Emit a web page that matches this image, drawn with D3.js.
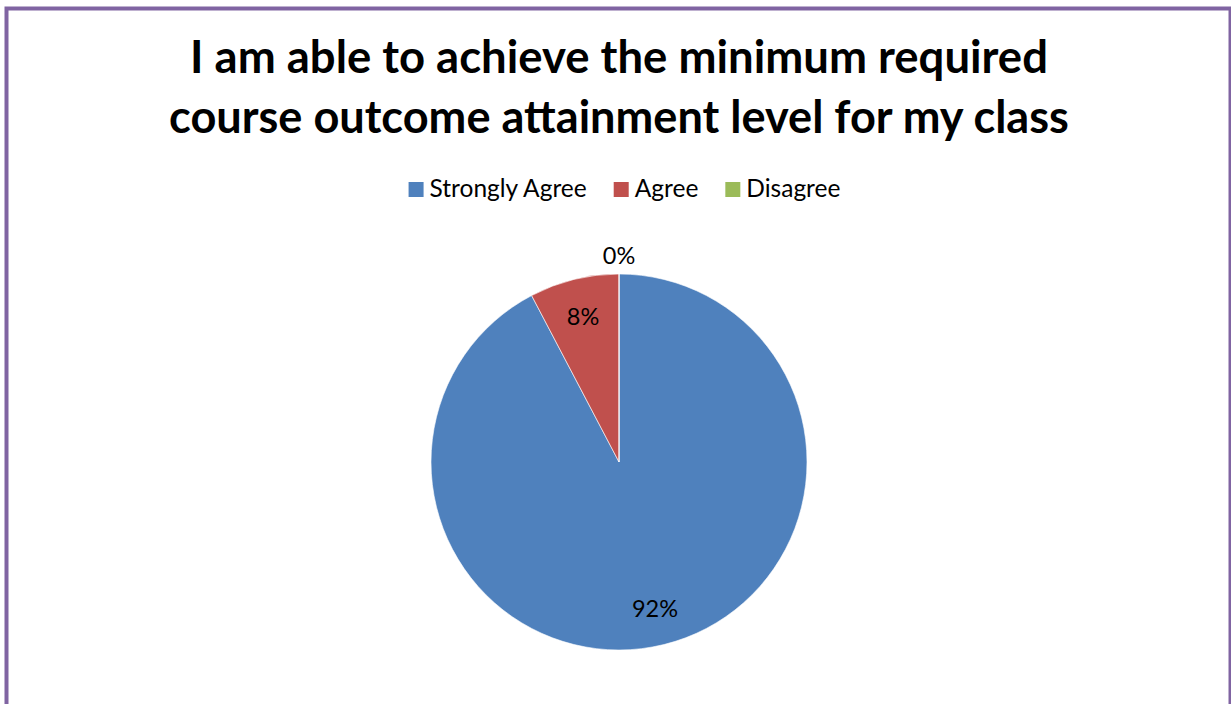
<!DOCTYPE html>
<html><head><meta charset="utf-8">
<script src="https://cdn.jsdelivr.net/npm/d3@7"></script>
<style>html,body{margin:0;padding:0;background:#fff;overflow:hidden}</style>
</head><body>
<svg id="chart" width="1231" height="704"></svg>
<script>
const titleLines = ["I am able to achieve the minimum required", "course outcome attainment level for my class"];
const categories = ["Strongly Agree", "Agree", "Disagree"];
const values = [24, 2, 0];
const colors = ["#4F81BD", "#C0504D", "#9BBB59"];

const W = 1231, H = 704;
const svg = d3.select("#chart");
const font = "Lato, 'Open Sans', sans-serif";

// frame
svg.append("rect").attr("x", 6.5).attr("y", 8.5).attr("width", 1224).attr("height", 720)
  .attr("fill", "#fff").attr("stroke", "#8064A2").attr("stroke-width", 4);

// title, fitted to the reference widths
const titleWidths = [858, 900];
const titleBaselines = [73, 133];
const cx = 619;
titleLines.forEach((t, i) => {
  const tx = svg.append("text").attr("x", cx).attr("y", titleBaselines[i])
    .attr("text-anchor", "middle").attr("font-family", font).attr("font-weight", "bold")
    .attr("font-size", 44).attr("fill", "#000").text(t);
  const w = tx.node().getComputedTextLength();
  tx.attr("font-size", 44 * titleWidths[i] / w);
});

// legend
const legendFont = 24.5;
const lg = svg.append("g").attr("font-family", font).attr("font-size", legendFont);
const items = lg.selectAll("g").data(categories).join("g");
items.append("rect").attr("width", 15).attr("height", 15).attr("y", -15)
  .attr("fill", (d, i) => colors[i]);
items.append("text").attr("x", 21).attr("y", 0).attr("fill", "#000").text(d => d);
let xPos = 0;
const gaps = 27;
items.each(function () {
  const g = d3.select(this);
  g.attr("transform", `translate(${xPos},197)`);
  xPos += 21 + g.select("text").node().getComputedTextLength() + gaps;
});
const legendW = xPos - gaps;
lg.attr("transform", `translate(${(406 + 843) / 2 - legendW / 2},0)`);

// pie
const R = 188, cy = 462;
const pie = d3.pie().sort(null).value(d => d)(values);
const arc = d3.arc().innerRadius(0).outerRadius(R);
const gp = svg.append("g").attr("transform", `translate(${cx},${cy})`);
gp.selectAll("path").data(pie).join("path")
  .attr("d", arc).attr("fill", (d, i) => colors[i])
  .attr("stroke", "#fff").attr("stroke-width", 0.6);

const total = d3.sum(values);
const inner = d3.arc().innerRadius(R * 0.8).outerRadius(R * 0.8);
const outer = d3.arc().innerRadius(R * 1.1).outerRadius(R * 1.1);
gp.selectAll("text").data(pie).join("text")
  .attr("transform", d => {
    const c = (d.value === 0 ? outer : inner).centroid(d);
    return `translate(${c[0]},${c[1]})`;
  })
  .attr("text-anchor", "middle").attr("dominant-baseline", "central")
  .attr("font-family", font).attr("font-size", 23.5).attr("fill", "#000")
  .text(d => Math.round(d.value / total * 100) + "%");
</script>
</body></html>
